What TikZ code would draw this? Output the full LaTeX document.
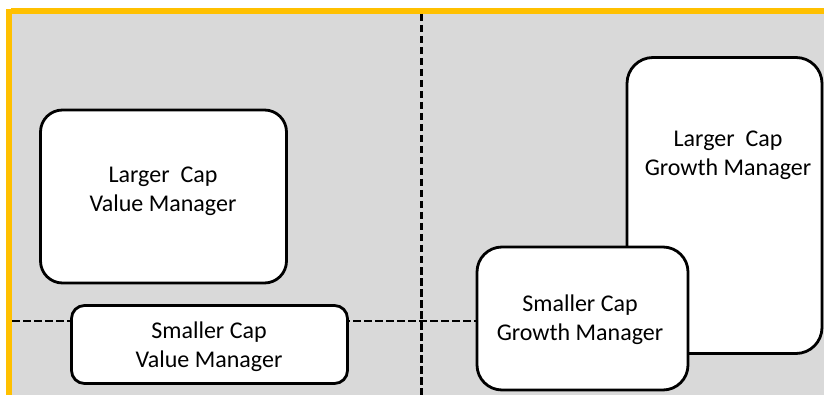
\documentclass[tikz,border=0pt]{standalone}
\usepackage{fontspec}
\setmainfont{Carlito}
\definecolor{frameorange}{HTML}{FFC000}
\definecolor{panelgray}{HTML}{D9D9D9}
\begin{document}
\begin{tikzpicture}[x=1pt,y=-1pt,
  mgrbox/.style={draw=black, fill=white, line width=2.8pt, rectangle, inner sep=0pt},
  mgrtext/.style={align=center, inner sep=0pt, font=\fontsize{24}{29}\selectfont},
  divider/.style={draw=black, line width=2.6pt, dash pattern=on 7.5pt off 3.5pt}]
  % canvas and frame
  \fill[white] (0,0) rectangle (824,395);
  \useasboundingbox (0,0) rectangle (824,395);
  \fill[panelgray] (12,14) rectangle (824,395);
  \fill[frameorange] (11,8) rectangle (824,14);
  \fill[frameorange] (6,9) rectangle (12,395);

  % quadrant dividers
  \coordinate (vtop) at (421.5,14);
  \coordinate (vbot) at (421.5,395);
  \coordinate (hleft) at (12,321);
  \coordinate (hright) at (824,321);
  \draw[divider] (vtop) -- (vbot);
  \draw[divider] (hleft) -- (hright);

  % manager boxes
  \node[mgrbox, rounded corners=22pt, minimum width=246pt, minimum height=173pt] (lcv) at (163.5,196.5) {};
  \node[mgrbox, rounded corners=13pt, minimum width=276pt, minimum height=78pt] (scv) at (209.5,344.5) {};
  \node[mgrbox, rounded corners=26pt, minimum width=195pt, minimum height=296pt] (lcg) at (724.5,205.5) {};
  \node[mgrbox, rounded corners=25pt, minimum width=211pt, minimum height=143pt] (scg) at (582.5,318.5) {};

  % labels
  \node[mgrtext] (lcvtext) at (163,191.5) {Larger~~Cap\\Value Manager};
  \node[mgrtext] (scvtext) at (209,346.5) {Smaller Cap\\Value Manager};
  \node[mgrtext] (lcgtext) at (728,155) {Larger~~Cap\\Growth Manager};
  \node[mgrtext] (scgtext) at (580,319.5) {Smaller Cap\\Growth Manager};
\end{tikzpicture}
\end{document}
